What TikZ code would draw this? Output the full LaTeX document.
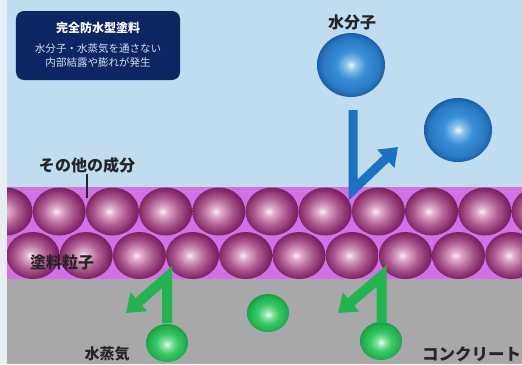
\documentclass[tikz,border=0pt]{standalone}
\usepackage{fontspec}
\newfontfamily\jp{Noto Sans CJK JP}
\usepackage{xcolor}
\usepackage{tikz}
\usetikzlibrary{arrows.meta}
\definecolor{sky}{HTML}{C0DCEF}
\definecolor{coat}{HTML}{D270E6}
\definecolor{concrete}{HTML}{A8A8AA}
\definecolor{margin}{HTML}{E6EEF3}
\definecolor{navy}{HTML}{0C2563}
\definecolor{boxtxt}{HTML}{D2DEF2}
\definecolor{arrowblue}{HTML}{1B72C2}
\definecolor{arrowgreen}{HTML}{22B44E}
% paint particle colours
\definecolor{painthi}{HTML}{F8ECF4}
\definecolor{paintlt}{HTML}{DDAACB}
\definecolor{paintmid}{HTML}{B06092}
\definecolor{paintdk}{HTML}{8A2E6E}
\definecolor{paintedge}{HTML}{6C1852}
% water molecule colours
\definecolor{waterhi}{HTML}{EEF6FB}
\definecolor{waterlt}{HTML}{8CC4EA}
\definecolor{watermid}{HTML}{3A8FD6}
\definecolor{waterdk}{HTML}{2778C2}
\definecolor{wateredge}{HTML}{1A5FA8}
% vapour colours
\definecolor{vapourhi}{HTML}{EEFCF2}
\definecolor{vapourlt}{HTML}{8FE4A8}
\definecolor{vapourmid}{HTML}{38C866}
\definecolor{vapourdk}{HTML}{22B352}
\definecolor{vapouredge}{HTML}{169A40}
\pgfdeclareradialshading{paintball}{\pgfpoint{-3bp}{0bp}}{color(0bp)=(painthi); color(5bp)=(paintlt); color(14bp)=(paintmid); color(22bp)=(paintdk); color(28bp)=(paintedge); color(50bp)=(paintedge)}
\pgfdeclareradialshading{waterball}{\pgfpoint{0bp}{0bp}}{color(0bp)=(waterhi); color(4bp)=(waterlt); color(11bp)=(watermid); color(21bp)=(waterdk); color(25bp)=(wateredge); color(50bp)=(wateredge)}
\pgfdeclareradialshading{vapourball}{\pgfpoint{0bp}{-2bp}}{color(0bp)=(vapourhi); color(5bp)=(vapourlt); color(13bp)=(vapourmid); color(21bp)=(vapourdk); color(27bp)=(vapouredge); color(50bp)=(vapouredge)}
\tikzstyle{jplabel}=[font=\jp\bfseries\fontsize{16bp}{18bp}\selectfont, text=black!85, inner sep=1bp]
\tikzstyle{infobox}=[fill=navy, rounded corners=8bp, minimum width=164bp, minimum height=69bp, inner sep=0]
\tikzstyle{boxtitle}=[font=\jp\bfseries\fontsize{12bp}{14bp}\selectfont, text=white]
\tikzstyle{boxtext}=[font=\jp\fontsize{10.5bp}{14bp}\selectfont, text=boxtxt, align=center]
\tikzstyle{leader}=[black!85, line width=1.5bp]
\tikzstyle{bluearrow}=[arrowblue, line width=9bp, miter limit=20, -{Triangle[length=17bp, width=24bp]}]
\tikzstyle{greenarrow}=[arrowgreen, line width=10bp, miter limit=20, -{Triangle[length=17bp, width=24bp]}]

\begin{document}
\begin{tikzpicture}[x=1bp, y=-1bp]
\clip (0,0) rectangle (522,364);
% air, coating and concrete
\fill[sky] (0,0) rectangle (522,187);
\fill[coat] (0,187) rectangle (522,279);
\fill[concrete] (0,279) rectangle (522,364);
% two rows of paint particles
\foreach \i in {0,...,10}
  \shade[shading=paintball] (6+53.2*\i,211.5) ellipse [x radius=26.5bp, y radius=24bp];
\foreach \i in {0,...,9}
  \shade[shading=paintball] (33+53.2*\i,255.5) ellipse [x radius=26.5bp, y radius=23.5bp];
\fill[margin] (0,0) rectangle (7,364);

% info box
\node[infobox] (info) at (98,45.5) {};
\node[boxtitle] (infotitle) at (98,28) {完全防水型塗料};
\node[boxtext] (infotext) at (98,55.5) {水分子・水蒸気を通さない\\内部結露や膨れが発生};

% water molecules bouncing off
\shade[shading=waterball] (351,65) ellipse [x radius=34bp, y radius=32bp];
\shade[shading=waterball] (458,130) ellipse [x radius=34bp, y radius=32bp];
\node[jplabel] (water) at (352,22) {水分子};
\coordinate (bluetop) at (353,110);
\coordinate (bluecorner) at (353,190);
\coordinate (bluetip) at (398,147);
\draw[bluearrow] (bluetop) -- (bluecorner) -- (bluetip);

% vapour trapped below
\shade[shading=vapourball] (167,343) ellipse [x radius=21bp, y radius=19bp];
\shade[shading=vapourball] (268,313) ellipse [x radius=21bp, y radius=19bp];
\shade[shading=vapourball] (381,341) ellipse [x radius=21bp, y radius=19bp];
\coordinate (lowbottom) at (167,323);
\coordinate (lowcorner) at (167,277);
\coordinate (lowtip) at (126,313);
\draw[greenarrow] (lowbottom) -- (lowcorner) -- (lowtip);
\coordinate (rightbottom) at (381.5,323);
\coordinate (rightcorner) at (381.5,276);
\coordinate (righttip) at (338,313);
\draw[greenarrow] (rightbottom) -- (rightcorner) -- (righttip);

% labels
\node[jplabel] (other) at (87,165) {その他の成分};
\coordinate (otherend) at (87,198);
\draw[leader] (other) -- (otherend);
\node[jplabel] (paint) at (62,262) {塗料粒子};
\node[jplabel, font=\jp\bfseries\fontsize{15bp}{17bp}\selectfont] (vapour) at (107,354) {水蒸気};
\node[jplabel, anchor=west, font=\jp\bfseries\fontsize{16.5bp}{18bp}\selectfont] (base) at (421,354) {コンクリート};
\end{tikzpicture}
\end{document}
